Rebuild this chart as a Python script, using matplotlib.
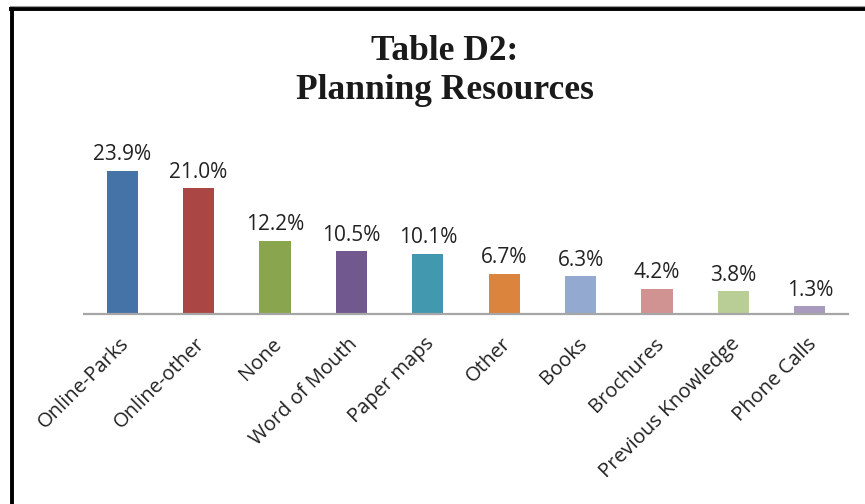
import matplotlib
matplotlib.use("Agg")
import matplotlib.pyplot as plt
from matplotlib.lines import Line2D

categories = ["Online-Parks", "Online-other", "None", "Word of Mouth", "Paper maps",
              "Other", "Books", "Brochures", "Previous Knowledge", "Phone Calls"]
values = [23.9, 21.0, 12.2, 10.5, 10.1, 6.7, 6.3, 4.2, 3.8, 1.3]
colors = ["#4572A7", "#AA4643", "#89A54E", "#71588F", "#4198AF",
          "#DB843D", "#93A9CF", "#D19392", "#B9CD96", "#A99BBD"]
title_lines = ["Table D2:", "Planning Resources"]

W, H = 865, 504
fig = plt.figure(figsize=(W / 100, H / 100), dpi=100)

# axes placement in pixels
x0, x1 = 84, 848
ybase = 314
ytop_val = 25.0
px_per = 143 / 23.9
ytop = ybase - ytop_val * px_per
ax = fig.add_axes([x0 / W, 1 - ybase / H, (x1 - x0) / W, (ybase - ytop) / H])

xs = range(len(categories))
ax.bar(xs, values, width=0.41, color=colors, zorder=2)
ax.set_xlim(-0.5, len(categories) - 0.5)
ax.set_ylim(0, ytop_val)
for s in ["top", "right", "left"]:
    ax.spines[s].set_visible(False)
ax.spines["bottom"].set_color("#A6A6A6")
ax.spines["bottom"].set_linewidth(1.6)
ax.set_yticks([])
ax.tick_params(axis="x", length=0, pad=0)
ax.set_xticks(list(xs))
ax.set_xticklabels([])

for i, (c, v) in enumerate(zip(categories, values)):
    ax.annotate(f"{v:.1f}%", (i, v), xytext=(0, 4), textcoords="offset points",
                ha="center", va="bottom", fontsize=15, family="Open Sans",
                color="#222222")
    ax.annotate(c, (i, 0), xytext=(2.5, -19.5), textcoords="offset points",
                ha="right", va="center", rotation=45, rotation_mode="anchor",
                fontsize=14.5, family="Open Sans", color="#222222",
                annotation_clip=False)

fig.text(445 / W, 1 - 60 / H, title_lines[0], ha="center", va="baseline", fontsize=25.5,
         family="Liberation Serif", fontweight="bold", color="#1a1a1a")
fig.text(445 / W, 1 - 99 / H, title_lines[1], ha="center", va="baseline", fontsize=25.5,
         family="Liberation Serif", fontweight="bold", color="#1a1a1a")

# frame
fig.add_artist(Line2D([12 / W, 12 / W], [0, 1 - 8.5 / H], color="black", lw=2.8,
                      transform=fig.transFigure))
fig.add_artist(Line2D([10.5 / W, 1], [1 - 8.5 / H, 1 - 8.5 / H], color="black", lw=2.8,
                      transform=fig.transFigure))
fig.add_artist(Line2D([9.5 / W, 1], [1 - 6 / H, 1 - 6 / H], color="#9a9a9a", lw=0.8,
                      transform=fig.transFigure))

fig.savefig("out.png", dpi=100)
